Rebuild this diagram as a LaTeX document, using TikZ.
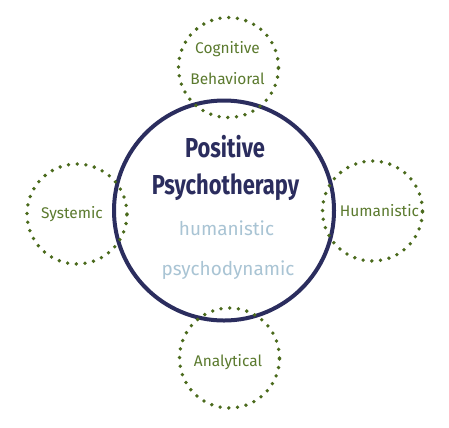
\documentclass[tikz,border=0pt]{standalone}
\usepackage{fontspec}
\setmainfont{Fira Sans}
\usepackage{xcolor}
\usetikzlibrary{positioning}
\definecolor{pptnavy}{HTML}{2B2D5E}
\definecolor{schoolgreen}{HTML}{5B7A2E}
\definecolor{dotgreen}{HTML}{4A6A1C}
\definecolor{pptblue}{HTML}{A9C4D4}

\tikzset{
  school/.style={circle, minimum size=100bp, inner sep=0pt,
    draw=dotgreen, line width=3.8bp, line cap=round,
    dash pattern=on 0bp off 8.7bp},
  schooltext/.style={text=schoolgreen, anchor=base, inner sep=0pt,
    font=\fontsize{15.5}{18}\selectfont},
  pptcircle/.style={circle, minimum size=220bp, inner sep=0pt,
    draw=pptnavy, line width=4bp},
  ppttitle/.style={text=pptnavy, anchor=base, inner sep=0pt,
    font=\fontsize{27.5}{30}\selectfont\bfseries},
  pptsub/.style={text=pptblue, anchor=base, inner sep=0pt,
    font=\fontsize{19}{22}\selectfont}
}

\begin{document}
\begin{tikzpicture}[x=1bp, y=-1bp]
    \fill[white] (0,0) rectangle (449,427);
    \useasboundingbox (0,0) rectangle (449,427);

    % centre circle
    \node[pptcircle] (ppt) at (224,210.5) {};
    \node[ppttitle] (title1) at (225,157) {\scalebox{0.8}[1]{Positive}};
    \node[ppttitle] (title2) at (225.5,194) {\scalebox{0.8}[1]{Psychotherapy}};
    \node[pptsub] (hum) at (226.5,235) {humanistic};
    \node[pptsub] (psy) at (228,275) {psychodynamic};

    % schools around it
    \node[school] (cbt) at (228.5,67.5) {};
    \node[school] (sys) at (77,214) {};
    \node[school] (hst) at (372.5,211) {};
    \node[school] (ana) at (229.5,358) {};

    \node[schooltext] (cbt1) at (227.5,53) {Cognitive};
    \node[schooltext] (cbt2) at (227.5,84) {Behavioral};
    \node[schooltext] (systxt) at (72,218) {Systemic};
    \node[schooltext] (hsttxt) at (379.5,216) {Humanistic};
    \node[schooltext] (anatxt) at (228,366) {Analytical};
\end{tikzpicture}
\end{document}
